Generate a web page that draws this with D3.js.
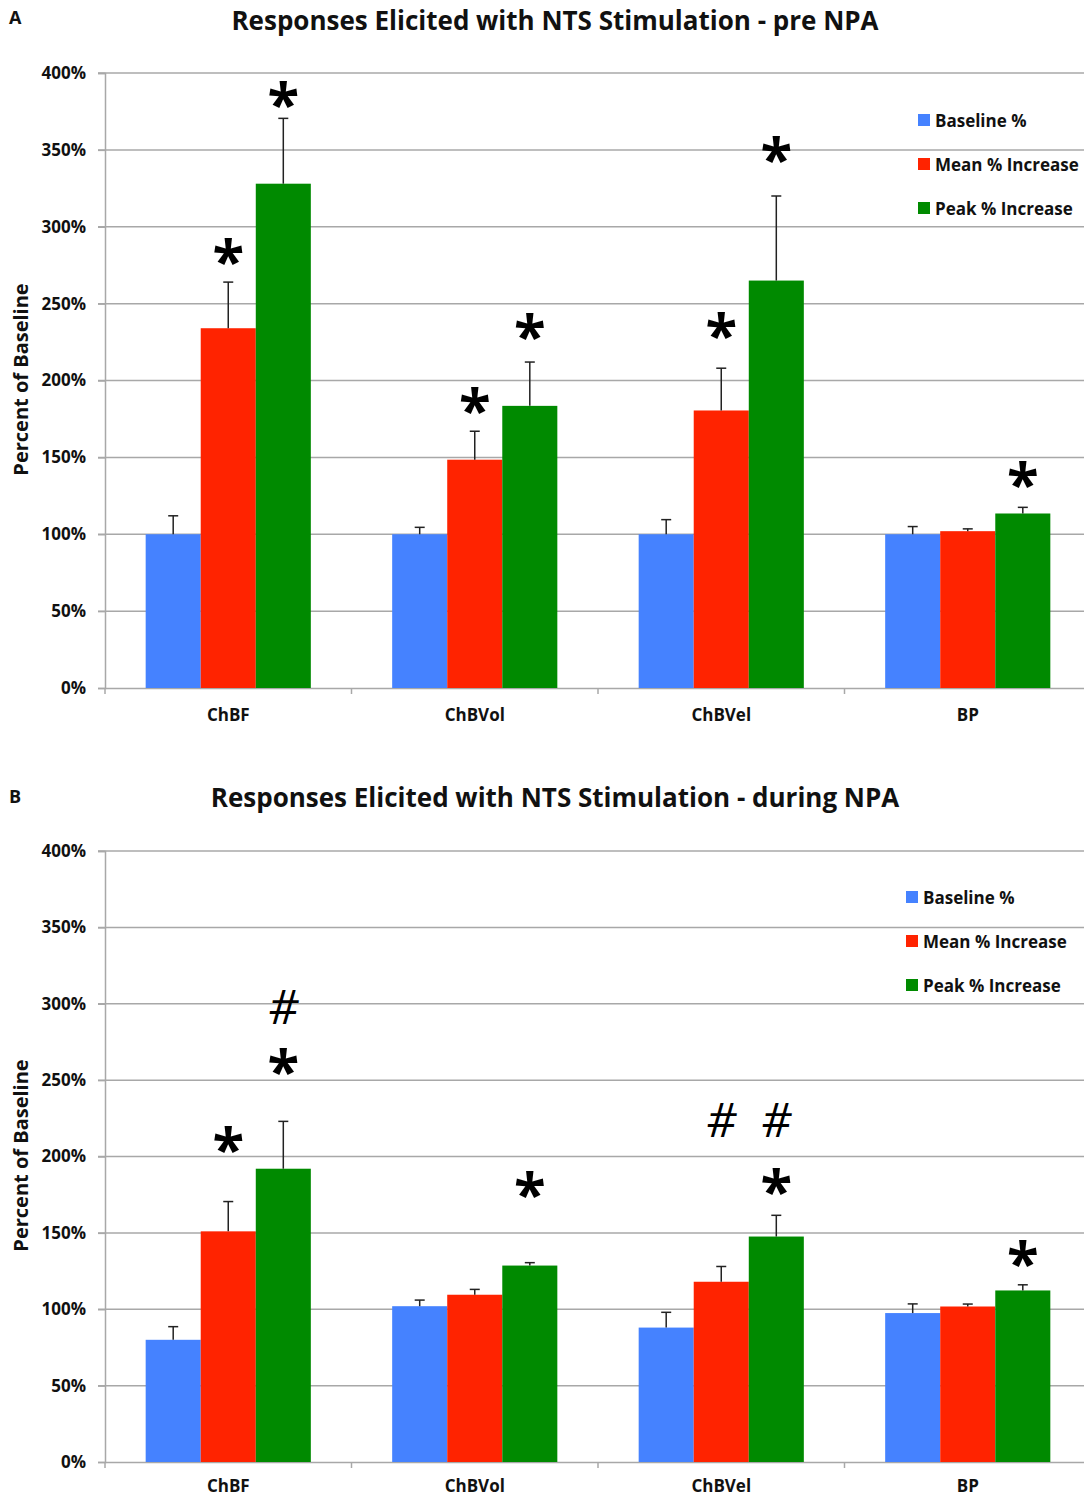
<!DOCTYPE html>
<html><head><meta charset="utf-8">
<script src="https://cdn.jsdelivr.net/npm/d3@7"></script>
<style>
html,body{margin:0;padding:0;background:#fff;}
svg{display:block;}
text{font-family:"Open Sans",Lato,sans-serif;}
</style></head>
<body>
<svg id="chart" width="1084" height="1498"></svg>
<script>
const categories = ["ChBF","ChBVol","ChBVel","BP"];
const seriesNames = ["Baseline %","Mean % Increase","Peak % Increase"];
const seriesColors = ["#4582FF","#FF2300","#008A00"];
const yTicks = [0,50,100,150,200,250,300,350,400];

// Panel A (pre NPA)
const preBaseline = [100,100,100,100];
const preBaselineErr = [112,104.5,109.5,105];
const preMean = [234,148.5,180.5,102];
const preMeanErr = [264,167,208,103.5];
const prePeak = [328,183.5,265,113.5];
const prePeakErr = [370.5,212,320,117.5];
const preMarks = [
  ["ChBF",1,"*",283],["ChBF",2,"*",385],
  ["ChBVol",1,"*",186],["ChBVol",2,"*",234],
  ["ChBVel",1,"*",235],["ChBVel",2,"*",349.5],
  ["BP",2,"*",138]
];

// Panel B (during NPA)
const durBaseline = [80,102,88,97.5];
const durBaselineErr = [88.6,106,98,103.5];
const durMean = [151,109.5,118,101.8];
const durMeanErr = [170.5,113,128,103.4];
const durPeak = [192,128.6,147.6,112.3];
const durPeakErr = [223,130.5,161.5,116];
const durMarks = [
  ["ChBF",1,"*",210],["ChBF",2,"#",297],["ChBF",2,"*",261],
  ["ChBVol",2,"*",181],
  ["ChBVel",1,"#",222.6],["ChBVel",2,"#",222.6],["ChBVel",2,"*",182.6],
  ["BP",2,"*",135.7]
];

const panels = [
  {letter:"A", title:"Responses Elicited with NTS Stimulation - pre NPA",
   vals:[preBaseline,preMean,prePeak], errs:[preBaselineErr,preMeanErr,prePeakErr], marks:preMarks,
   top:73, bottom:688, letterY:18, titleY:21, legendX:918, legendY:121, labelPad:21},
  {letter:"B", title:"Responses Elicited with NTS Stimulation - during NPA",
   vals:[durBaseline,durMean,durPeak], errs:[durBaselineErr,durMeanErr,durPeakErr], marks:durMarks,
   top:851, bottom:1462, letterY:797, titleY:798, legendX:906, legendY:898, labelPad:18}
];

const svg = d3.select("#chart");
const left = 105, right = 1091;
const gridColor = "#a8a8a8";
const FONT = "'Open Sans',sans-serif";

panels.forEach(p => {
  const g = svg.append("g");
  const x = d3.scaleBand().domain(categories).range([left,right]).paddingInner(0.33).paddingOuter(0.165);
  const xs = d3.scaleBand().domain(d3.range(seriesNames.length)).range([0,x.bandwidth()]).padding(0);
  const y = d3.scaleLinear().domain([0,400]).range([p.bottom,p.top]);

  // panel letter & title
  g.append("text").attr("x",9).attr("y",p.letterY).attr("dy","0.35em")
    .attr("font-size",18).attr("font-weight",700).attr("fill","#111").text(p.letter);
  g.append("text").attr("x",555).attr("y",p.titleY).attr("dy","0.35em").attr("text-anchor","middle")
    .attr("font-size",26).attr("font-weight",700).attr("fill","#111").text(p.title);

  // gridlines
  g.append("g").selectAll("line").data(yTicks.filter(d=>d>0)).join("line")
    .attr("x1",98).attr("x2",1084).attr("y1",d=>y(d)).attr("y2",d=>y(d))
    .attr("stroke",gridColor).attr("stroke-width",1.5);

  // y axis
  const yAxis = d3.axisLeft(y).tickValues(yTicks).tickFormat(d=>d+"%").tickSize(7).tickPadding(12);
  const ya = g.append("g").attr("transform",`translate(${left},0)`).call(yAxis);
  ya.select(".domain").attr("stroke",gridColor).attr("stroke-width",1.5);
  ya.selectAll(".tick line").attr("stroke",gridColor).attr("stroke-width",1.5);
  ya.selectAll(".tick text").attr("font-size",17).attr("font-weight",700).attr("fill","#111")
    .attr("font-family",FONT);

  // x axis
  const xAxis = d3.axisBottom(x).tickSize(0).tickPadding(p.labelPad);
  const xa = g.append("g").attr("transform",`translate(0,${p.bottom})`).call(xAxis);
  xa.select(".domain").attr("stroke",gridColor).attr("stroke-width",1.5);
  xa.selectAll(".tick text").attr("font-size",17).attr("font-weight",700).attr("fill","#111")
    .attr("font-family",FONT);
  const step = x.step();
  const bounds = categories.map(c => x(c) - x.paddingInner()*step/2);
  xa.append("g").selectAll("line").data(bounds).join("line")
    .attr("x1",d=>d).attr("x2",d=>d).attr("y1",0).attr("y2",6)
    .attr("stroke",gridColor).attr("stroke-width",1.5);

  // y label
  g.append("text").attr("transform",`translate(21,${(p.top+p.bottom)/2 - 1}) rotate(-90)`)
    .attr("dy","0.35em").attr("text-anchor","middle").attr("font-size",20).attr("font-weight",700)
    .attr("fill","#111").text("Percent of Baseline");

  // bars
  const barData = [];
  p.vals.forEach((arr,si) => arr.forEach((v,ci) => barData.push({c:categories[ci],s:si,v,e:p.errs[si][ci]})));
  g.append("g").selectAll("rect").data(barData).join("rect")
    .attr("x",d=>x(d.c)+xs(d.s)).attr("width",xs.bandwidth())
    .attr("y",d=>y(d.v)).attr("height",d=>y(0)-y(d.v))
    .attr("fill",d=>seriesColors[d.s]);

  // error bars
  const eb = g.append("g").attr("stroke","#222").attr("stroke-width",1.5);
  eb.selectAll("line.v").data(barData).join("line").attr("class","v")
    .attr("x1",d=>x(d.c)+xs(d.s)+xs.bandwidth()/2).attr("x2",d=>x(d.c)+xs(d.s)+xs.bandwidth()/2)
    .attr("y1",d=>y(d.v)).attr("y2",d=>y(d.e));
  eb.selectAll("line.cap").data(barData).join("line").attr("class","cap")
    .attr("x1",d=>x(d.c)+xs(d.s)+xs.bandwidth()/2-5).attr("x2",d=>x(d.c)+xs(d.s)+xs.bandwidth()/2+5)
    .attr("y1",d=>y(d.e)).attr("y2",d=>y(d.e));

  // significance marks
  g.append("g").selectAll("text").data(p.marks).join("text")
    .attr("x",d=>x(d[0])+xs(d[1])+xs.bandwidth()/2)
    .attr("y",d=>y(d[3]))
    .attr("text-anchor","middle")
    .attr("dy",d=>d[2]==="*"?"0.5em":"0.33em")
    .attr("font-family","'DejaVu Sans',sans-serif")
    .attr("font-size",d=>d[2]==="*"?58:47)
    .attr("font-weight",d=>d[2]==="*"?700:400)
    .attr("font-style",d=>d[2]==="*"?"normal":"italic")
    .attr("fill","#000").text(d=>d[2]);

  // legend
  const lg = g.append("g").attr("transform",`translate(${p.legendX},${p.legendY})`);
  seriesNames.forEach((n,i) => {
    const row = lg.append("g").attr("transform",`translate(0,${i*44})`);
    row.append("rect").attr("x",0).attr("y",-7).attr("width",12).attr("height",12).attr("fill",seriesColors[i]);
    row.append("text").attr("x",17).attr("y",0).attr("dy","0.35em").attr("font-size",17)
      .attr("font-weight",700).attr("fill","#111").text(n);
  });
});
</script>
</body></html>
